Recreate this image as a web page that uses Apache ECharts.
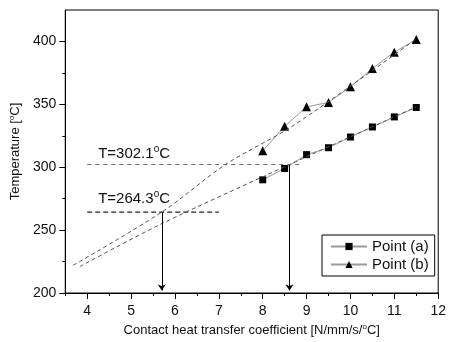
<!DOCTYPE html>
<html>
<head>
<meta charset="utf-8">
<script src="https://cdn.jsdelivr.net/npm/echarts@6/dist/echarts.min.js"></script>
<style>html,body{margin:0;padding:0;background:#fff;}#c{width:449px;height:342px;}</style>
</head>
<body>
<div id="c"></div>
<script>
// ---- data ----
const xValues = [8, 8.5, 9, 9.5, 10, 10.5, 11, 11.5];
const pointA = [290, 299, 310, 315.5, 324, 332, 340, 347.5];
const pointB = [313, 332.5, 348, 351.5, 364, 378.5, 391.5, 401.5];
// dashed fit curves (read points)
const fitAX = [3.83, 5.68, 8.61, 11.5];
const fitAY = [221, 254.8, 302.1, 348];
const fitBX = [3.68, 5.7, 7.15, 8.6, 10, 11.5];
const fitBY = [222, 264.3, 302.1, 331, 364.5, 402];
// reference temperatures
const refTemps = [302.1, 264.3];
const refLineStartX = [4, 4];
const refLineEndX = [8.9, 7];
const arrowX = [8.61, 5.7];
const arrowEndY = 202;
const refLabelX = [4.25, 4.25];
const refLabelY = [311, 275];
const refLabelText = ['T=302.1', 'T=264.3'];
// ticks
const xMajorTicks = [4, 5, 6, 7, 8, 9, 10, 11, 12];
const xMinorTicks = [3.5, 4.5, 5.5, 6.5, 7.5, 8.5, 9.5, 10.5, 11.5];
const yMajorTicks = [200, 250, 300, 350, 400];
const yMinorTicks = [225, 275, 325, 375];

const zip = (xs, ys) => xs.map((x, i) => [x, ys[i]]);
const FONT = 'Liberation Sans, Arial, sans-serif';
const TXT = '#111';
const supRich = {
  a: {fontSize: 15, color: TXT, fontFamily: FONT},
  s: {fontSize: 10, color: TXT, fontFamily: FONT, padding: [0, 0, 8, 0]},
  ns: {fontSize: 8, color: TXT, fontFamily: FONT, padding: [0, 0, 7, 0]}
};

const chart = echarts.init(document.getElementById('c'), null, {renderer: 'canvas'});
const option = {
  animation: false,
  backgroundColor: '#fff',
  grid: {left: 64, top: 10, right: 7, bottom: 44, show: true, borderColor: '#000', borderWidth: 1, containLabel: false},
  legend: {
    data: ['Point (a)', 'Point (b)'],
    orient: 'vertical',
    left: 322, top: 235,
    padding: [4, 6, 4, 8],
    itemGap: 3,
    itemWidth: 36, itemHeight: 9,
    borderColor: '#000', borderWidth: 1,
    textStyle: {fontSize: 15, color: TXT, fontFamily: FONT}
  },
  xAxis: [{
    type: 'value', min: 3.5, max: 12, position: 'bottom',
    name: 'Contact heat transfer coefficient [N/mm/s/{ns|o}C]',
    nameLocation: 'middle', nameGap: 30,
    nameTextStyle: {fontSize: 13, color: TXT, fontFamily: FONT, rich: supRich},
    axisLine: {show: true, onZero: false, lineStyle: {color: '#000', width: 1}},
    axisTick: {show: true, inside: false, length: 6, customValues: xMajorTicks, lineStyle: {color: '#000'}},
    axisLabel: {show: true, customValues: xMajorTicks, fontSize: 14, color: TXT, fontFamily: FONT, margin: 11},
    splitLine: {show: false}
  }, {
    type: 'value', min: 3.5, max: 12, position: 'bottom',
    axisLine: {show: false},
    axisTick: {show: true, inside: false, length: 3, customValues: xMinorTicks, lineStyle: {color: '#000'}},
    axisLabel: {show: false},
    splitLine: {show: false}
  }],
  yAxis: [{
    type: 'value', min: 200, max: 425, position: 'left',
    name: 'Temperature [{ns|o}C]',
    nameLocation: 'middle', nameGap: 41,
    nameTextStyle: {fontSize: 13, color: TXT, fontFamily: FONT, rich: supRich},
    axisLine: {show: true, onZero: false, lineStyle: {color: '#000', width: 1}},
    axisTick: {show: true, inside: false, length: 6, customValues: yMajorTicks, lineStyle: {color: '#000'}},
    axisLabel: {show: true, customValues: yMajorTicks, fontSize: 14, color: TXT, fontFamily: FONT, margin: 9},
    splitLine: {show: false}
  }, {
    type: 'value', min: 200, max: 425, position: 'left',
    axisLine: {show: false},
    axisTick: {show: true, inside: false, length: 3, customValues: yMinorTicks, lineStyle: {color: '#000'}},
    axisLabel: {show: false},
    splitLine: {show: false}
  }],
  series: [
    {
      name: 'Point (a)', type: 'line', data: zip(xValues, pointA),
      symbol: 'rect', symbolSize: 7, z: 3,
      itemStyle: {color: '#000'},
      lineStyle: {color: '#9a9a9a', width: 1}
    },
    {
      name: 'Point (b)', type: 'line', data: zip(xValues, pointB),
      symbol: 'triangle', symbolSize: 9, z: 3,
      itemStyle: {color: '#000'},
      lineStyle: {color: '#9a9a9a', width: 1}
    },
    {
      name: 'fitA', type: 'line', data: zip(fitAX, fitAY), symbol: 'none', smooth: 0.3, z: 4,
      lineStyle: {color: '#555', width: 1, type: [4, 3]}
    },
    {
      name: 'fitB', type: 'line', data: zip(fitBX, fitBY), symbol: 'none', smooth: 0.3, z: 4,
      lineStyle: {color: '#555', width: 1, type: [4, 3]}
    },
    {
      name: 'ref302', type: 'line', data: [[refLineStartX[0], refTemps[0]], [refLineEndX[0], refTemps[0]]],
      symbol: 'none', z: 2,
      lineStyle: {color: '#666', width: 1, type: [4, 4]}
    },
    {
      name: 'ref264', type: 'line', data: [[refLineStartX[1], refTemps[1]], [refLineEndX[1], refTemps[1]]],
      symbol: 'none', z: 2,
      lineStyle: {color: '#222', width: 1.2, type: [5, 3]}
    },
    {
      name: 'arrows', type: 'line', data: [], symbol: 'none', z: 5,
      markLine: {
        silent: true, animation: false,
        symbol: ['none', 'arrow'], symbolSize: 6,
        label: {show: false},
        lineStyle: {color: '#000', width: 1, type: 'solid'},
        data: arrowX.map((x, i) => [{coord: [x, refTemps[i]]}, {coord: [x, arrowEndY]}])
      }
    },
    {
      name: 'labels', type: 'scatter', symbolSize: 0, z: 6,
      itemStyle: {color: TXT, opacity: 1},
      data: refLabelX.map((x, i) => ({value: [x, refLabelY[i]], name: refLabelText[i]})),
      label: {
        show: true, position: 'right', distance: 0, color: TXT, opacity: 1,
        formatter: p => '{a|' + p.name + '}{s|o}{a|C}',
        rich: supRich
      }
    }
  ]
};
chart.setOption(option);
</script>
</body>
</html>
